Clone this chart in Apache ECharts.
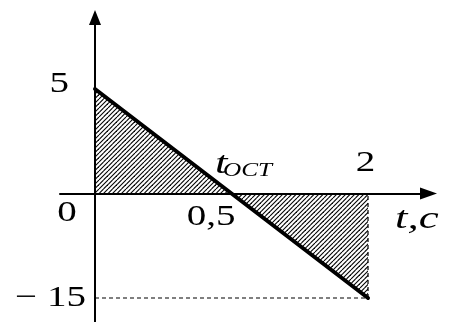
<!DOCTYPE html>
<html>
<head>
<meta charset="utf-8">
<script src="https://cdn.jsdelivr.net/npm/echarts@6/dist/echarts.min.js"></script>
<style>
  html, body { margin: 0; padding: 0; background: #fff; }
  #chart { width: 450px; height: 322px; }
</style>
</head>
<body>
<div id="chart"></div>
<script>
// Schematic v(t) plot: tick values sit at evenly spaced slots, not to scale.
const timeTicks = ['0', '0,5', '2'];          // t, c
const speedTicks = ['−15', '0', '5'];         // v
const speedTimes = ['0', '0,5', '2'];
const speedValues = ['5', '0', '−15'];
const guideTimes = ['0', '2', '2'];
const guideValues = ['−15', '−15', '0'];

const GRID = { left: 60, right: 21.5, top: 17.5, bottom: 0 };
const serif = '"Liberation Serif", "Times New Roman", serif';

const chart = echarts.init(document.getElementById('chart'), null, { renderer: 'canvas' });

// slot index of a tick along each axis
const xIdx = t => timeTicks.indexOf(t);
const yIdx = v => speedTicks.indexOf(v);
const pt = (t, v) => [xIdx(t), yIdx(v)];

// diagonal "/" hatching tile
function hatchTile() {
  const c = document.createElement('canvas');
  c.width = 9; c.height = 9;
  const g = c.getContext('2d');
  g.strokeStyle = '#000';
  g.lineWidth = 1.1;
  for (let k = -2; k <= 2; k++) {
    g.beginPath();
    g.moveTo(k * 4.5, 9);
    g.lineTo(k * 4.5 + 9, 0);
    g.stroke();
  }
  return c;
}
const hatch = { image: hatchTile(), repeat: 'repeat' };

const axisCommon = {
  type: 'value',
  axisTick: { show: false },
  axisLabel: { show: false },
  splitLine: { show: false }
};

chart.setOption({
  animation: false,
  backgroundColor: '#fff',
  grid: Object.assign({ containLabel: false, outerBoundsMode: 'none' }, GRID),
  xAxis: Object.assign({}, axisCommon, {
    position: 'bottom',
    min: -0.2564,
    max: 2.443,
    axisLine: {
      onZero: false,
      symbol: ['none', 'triangle'],
      symbolSize: [12, 17],
      lineStyle: { color: '#000', width: 2 }
    }
  }),
  yAxis: Object.assign({}, axisCommon, {
    position: 'left',
    min: -0.2297,
    max: 2.684,
    axisLine: {
      onZero: false,
      symbol: ['none', 'triangle'],
      symbolSize: [12, 15],
      lineStyle: { color: '#000', width: 2 }
    }
  }),
  series: [
    {
      // hatched area between v(t) and the time axis
      type: 'custom',
      clip: false,
      silent: true,
      z: 1,
      data: [[0, 1]],
      renderItem: function (params, api) {
        const last = speedTimes[speedTimes.length - 1];
        const pts = [api.coord(pt(speedTimes[0], '0'))];
        speedTimes.forEach((t, i) => pts.push(api.coord(pt(t, speedValues[i]))));
        pts.push(api.coord(pt(last, '0')));
        return { type: 'polygon', shape: { points: pts }, style: { fill: hatch, stroke: null } };
      }
    },
    {
      type: 'line',
      silent: true,
      z: 3,
      symbol: 'none',
      data: guideTimes.map((t, i) => pt(t, guideValues[i])),
      lineStyle: { color: '#000', width: 1.2, type: [4, 3] }
    },
    {
      type: 'line',
      silent: true,
      z: 4,
      symbol: 'none',
      data: speedTimes.map((t, i) => pt(t, speedValues[i])),
      lineStyle: { color: '#000', width: 4, cap: 'round' }
    }
  ]
});

const at = (t, v) => chart.convertToPixel({ gridIndex: 0 }, pt(t, v));
const origin = at('0', '0');
const gridBottomPx = chart.getHeight() - GRID.bottom;

function txt(text, anchor, dx, dy, align, size, italic, stretch) {
  return {
    type: 'text',
    x: anchor[0] + dx,
    y: anchor[1] + dy,
    scaleX: stretch || 1.3,
    silent: true,
    style: {
      text: text,
      x: 0,
      y: 0,
      fill: '#000',
      font: (italic ? 'italic ' : '') + size + 'px ' + serif,
      align: align,
      verticalAlign: 'middle'
    }
  };
}

const crossing = at('0,5', '0');
const tEnd = at('2', '0');

chart.setOption({
  xAxis: { offset: origin[1] - gridBottomPx },
  yAxis: { offset: GRID.left - origin[0] },
  graphic: [
    txt(speedTicks[2], at('0', '5'), -26, -4.5, 'right', 30),
    txt(speedTicks[0].replace('−', '− '), at('0', '−15'), -9, 0, 'right', 30),
    txt(timeTicks[0], origin, -28, 19.5, 'center', 30),
    txt(timeTicks[1], crossing, -20.5, 23.5, 'center', 30),
    txt(timeTicks[2], tEnd, -2.5, -30, 'center', 30),
    txt('t', crossing, -16.5, -29, 'left', 31, true, 1.45),
    txt('OCT', crossing, -8.5, -22.5, 'left', 18, true, 1.4),
    txt('t,c', tEnd, 27, 26, 'left', 31, true, 1.45)
  ]
});
</script>
</body>
</html>
